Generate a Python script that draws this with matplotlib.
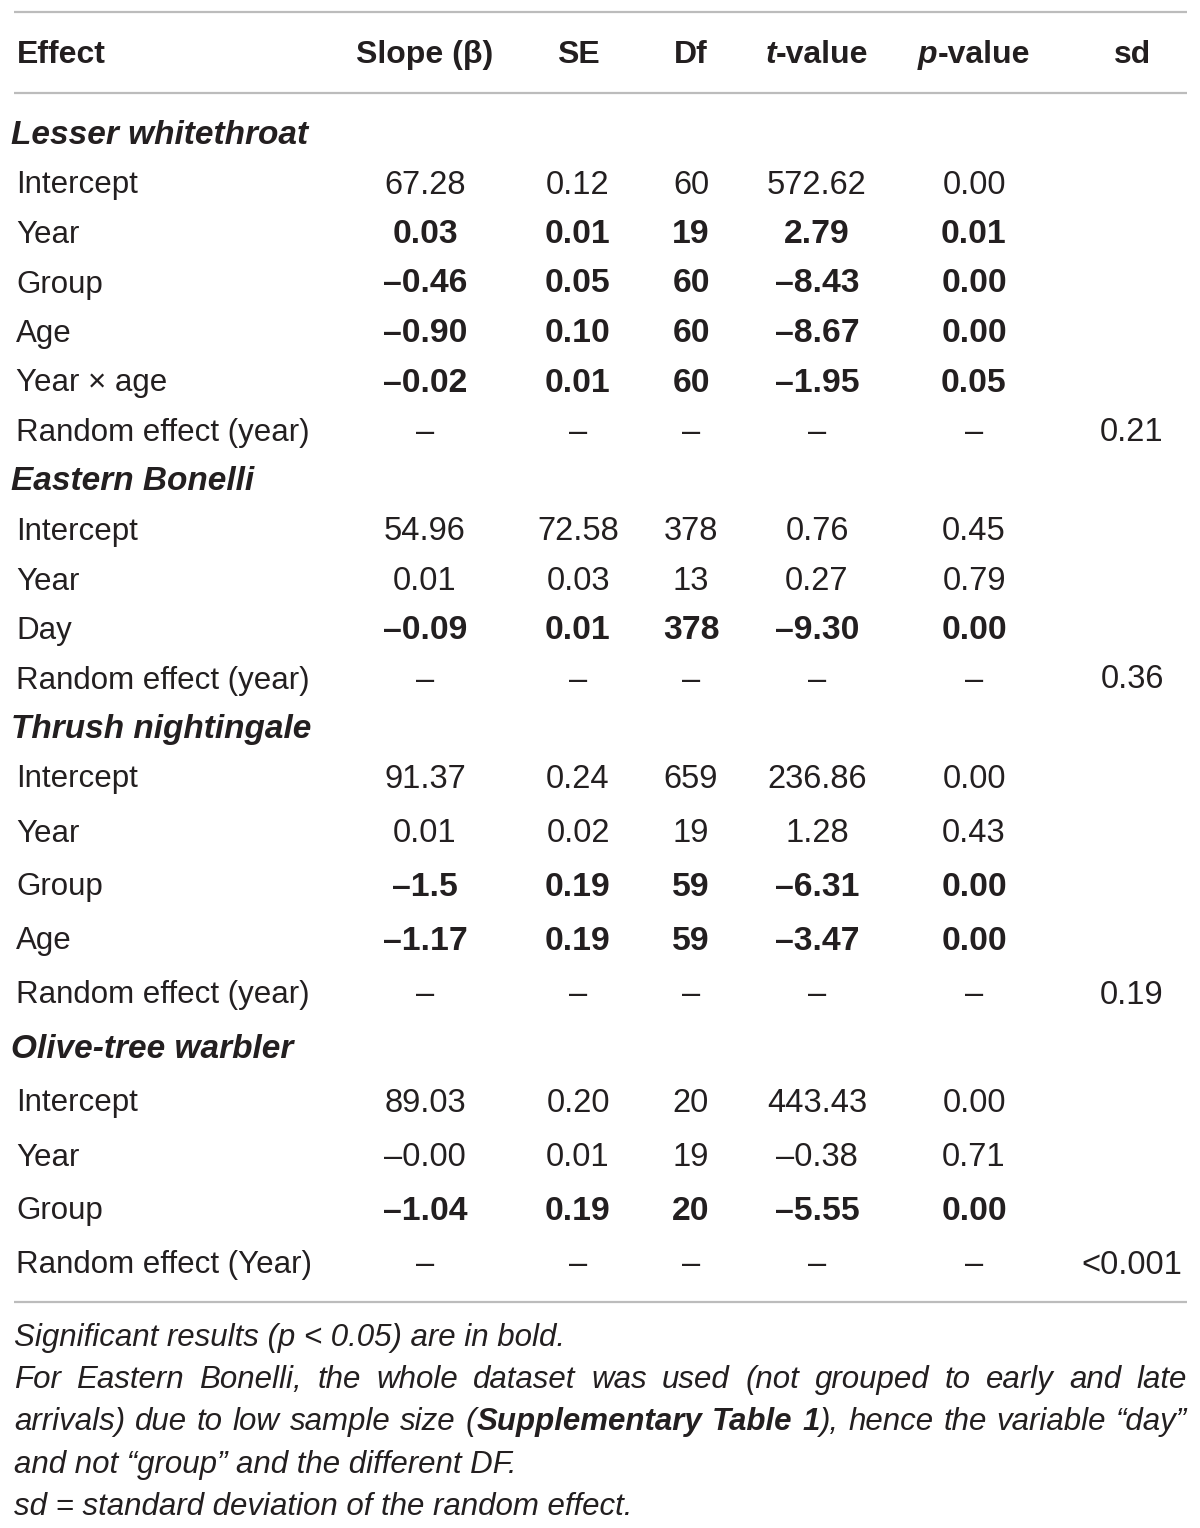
import matplotlib
matplotlib.use('Agg')
import matplotlib.pyplot as plt

plt.rcParams['font.family'] = ['Liberation Sans', 'DejaVu Sans']

# table content, one entry per row ('' = nothing in that cell)
row_labels = ['Lesser whitethroat', 'Intercept', 'Year', 'Group', 'Age', 'Year \u00d7 age',
              'Random effect (year)',
              'Eastern Bonelli', 'Intercept', 'Year', 'Day', 'Random effect (year)',
              'Thrush nightingale', 'Intercept', 'Year', 'Group', 'Age', 'Random effect (year)',
              'Olive-tree warbler', 'Intercept', 'Year', 'Group', 'Random effect (Year)']
is_title = [True, False, False, False, False, False, False,
            True, False, False, False, False,
            True, False, False, False, False, False,
            True, False, False, False, False]
is_bold = [False, False, True, True, True, True, False,
           False, False, False, True, False,
           False, False, False, True, True, False,
           False, False, False, True, False]
slope = ['', '67.28', '0.03', '\u20130.46', '\u20130.90', '\u20130.02', '\u2013',
         '', '54.96', '0.01', '\u20130.09', '\u2013',
         '', '91.37', '0.01', '\u20131.5', '\u20131.17', '\u2013',
         '', '89.03', '\u20130.00', '\u20131.04', '\u2013']
se = ['', '0.12', '0.01', '0.05', '0.10', '0.01', '\u2013',
      '', '72.58', '0.03', '0.01', '\u2013',
      '', '0.24', '0.02', '0.19', '0.19', '\u2013',
      '', '0.20', '0.01', '0.19', '\u2013']
dfs = ['', '60', '19', '60', '60', '60', '\u2013',
       '', '378', '13', '378', '\u2013',
       '', '659', '19', '59', '59', '\u2013',
       '', '20', '19', '20', '\u2013']
tval = ['', '572.62', '2.79', '\u20138.43', '\u20138.67', '\u20131.95', '\u2013',
        '', '0.76', '0.27', '\u20139.30', '\u2013',
        '', '236.86', '1.28', '\u20136.31', '\u20133.47', '\u2013',
        '', '443.43', '\u20130.38', '\u20135.55', '\u2013']
pval = ['', '0.00', '0.01', '0.00', '0.00', '0.05', '\u2013',
        '', '0.45', '0.79', '0.00', '\u2013',
        '', '0.00', '0.43', '0.00', '0.00', '\u2013',
        '', '0.00', '0.71', '0.00', '\u2013']
sd = ['', '', '', '', '', '', '0.21',
      '', '', '', '', '0.36',
      '', '', '', '', '', '0.19',
      '', '', '', '', '<0.001']

# header: list of runs (text, italic)
headers = [
    [('Slope (\u03b2)', False)],
    [('SE', False)],
    [('Df', False)],
    [('t', True), ('-value', False)],
    [('p', True), ('-value', False)],
    [('sd', False)],
]

notes = [
    [[('Significant results (p < 0.05) are in bold.', 'italic', 'normal')]],
    'For Eastern Bonelli, the whole dataset was used (not grouped to early and late',
    'arrivals) due to low sample size (|Supplementary Table 1|), hence the variable \u201cday\u201d',
    [[('and not \u201cgroup\u201d and the different DF.', 'italic', 'normal')]],
    [[('sd = standard deviation of the random effect.', 'italic', 'normal')]],
]

W, H = 1200, 1528
FS = 22.5          # row labels, footnotes
FS_NUM = 23.5      # regular numbers
FS_BNUM = 24.3     # bold numbers
FS_HEAD = 23
FS_TITLE = 24
COLOR = '#231f20'
BASE = 11          # baseline offset below visual row centre
col_x = [425, 578, 691, 817, 974, 1132]

fig = plt.figure(figsize=(W / 100, H / 100), dpi=100)
ax = fig.add_axes([0, 0, 1, 1])
ax.set_xlim(0, W)
ax.set_ylim(H, 0)
ax.axis('off')
renderer = fig.canvas.get_renderer()


def draw_runs(x, y, runs, fs, align='left'):
    # runs: (text, style, weight)
    objs = []
    for txt, style, weight in runs:
        objs.append(ax.text(0, y + BASE, txt, fontsize=fs, style=style, weight=weight,
                            color=COLOR, va='baseline', ha='left'))
    widths = [o.get_window_extent(renderer).width for o in objs]
    total = sum(widths)
    if align == 'center':
        x = x - total / 2
    for o, w in zip(objs, widths):
        o.set_x(x)
        x += w
    return total


# rules
for yl in [12, 93, 1302]:
    ax.plot([14, 1187], [yl, yl], color='#bcbcbc', lw=1.6, solid_capstyle='butt')

# header row
ax.text(17, 52 + BASE, 'Effect', fontsize=FS_HEAD, weight='bold', color=COLOR, va='baseline')
for cx, runs in zip(col_x, headers):
    draw_runs(cx, 52, [(t, 'italic' if it else 'normal', 'bold') for t, it in runs],
              FS_HEAD, align='center')

# body rows
for i, label in enumerate(row_labels):
    y = 133 + 49.5 * i if i <= 13 else 776.5 + 54 * (i - 13)
    if is_title[i]:
        ax.text(11, y + BASE, label, fontsize=FS_TITLE, style='italic', weight='bold',
                color=COLOR, va='baseline')
        continue
    ax.text(16, y + BASE, label, fontsize=FS, color=COLOR, va='baseline')
    w = 'bold' if is_bold[i] else 'normal'
    fs = FS_BNUM if is_bold[i] else FS_NUM
    for cx, col in zip(col_x, [slope, se, dfs, tval, pval, sd]):
        if col[i]:
            ax.text(cx, y + BASE, col[i], fontsize=fs, weight=w, color=COLOR,
                    va='baseline', ha='center')

# footnotes
for j, note in enumerate(notes):
    y = 1335 + 42.2 * j
    if not isinstance(note, str):
        draw_runs(14, y, note[0], FS)
        continue
    # justified line, text between | | in bold
    words = []
    bold = False
    for word in note.split(' '):
        runs = []
        parts = word.split('|')
        for k, p in enumerate(parts):
            if k > 0:
                bold = not bold
            if p:
                runs.append((p, 'italic', 'bold' if bold else 'normal'))
        words.append(runs)
    groups = [[ax.text(0, y + BASE, t, fontsize=FS, style=s, weight=wt, color=COLOR,
                       va='baseline') for t, s, wt in runs] for runs in words]
    widths = [[o.get_window_extent(renderer).width for o in g] for g in groups]
    total = sum(sum(ws) for ws in widths)
    gap = (1187 - 14 - total) / (len(groups) - 1)
    x = 14
    for g, ws in zip(groups, widths):
        for o, wd in zip(g, ws):
            o.set_x(x)
            x += wd
        x += gap

fig.savefig('out.png', dpi=100)
